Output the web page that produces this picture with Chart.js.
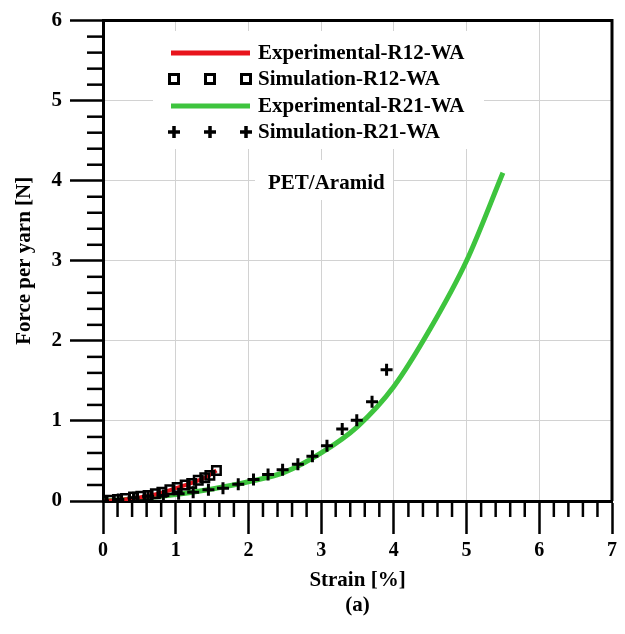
<!DOCTYPE html>
<html>
<head>
<meta charset="utf-8">
<script src="https://cdn.jsdelivr.net/npm/chart.js@4/dist/chart.umd.min.js"></script>
<style>
  body { margin: 0; background: #fff; }
  #wrap { width: 625px; height: 634px; position: relative; }
</style>
</head>
<body>
<div id="wrap"><canvas id="forceChart"></canvas></div>
<script>
// Experimental curve, sample R21-WA (green)
const expR21Strain = [0, 0.5, 1.0, 1.5, 2.0, 2.5, 3.0, 3.5, 4.0, 4.5, 5.0, 5.5];
const expR21Force  = [0, 0.03, 0.08, 0.15, 0.24, 0.36, 0.60, 0.93, 1.43, 2.15, 3.00, 4.10];

// Simulation points, sample R21-WA (crosses)
const simR21Strain = [0, 0.21, 0.42, 0.62, 0.83, 1.04, 1.24, 1.45, 1.65, 1.86, 2.07, 2.27, 2.47, 2.68, 2.88, 3.08, 3.29, 3.49, 3.70, 3.90];
const simR21Force  = [0, 0.02, 0.04, 0.06, 0.07, 0.09, 0.11, 0.14, 0.16, 0.21, 0.27, 0.33, 0.39, 0.46, 0.56, 0.69, 0.90, 1.01, 1.24, 1.64];

// Experimental curve, sample R12-WA (red)
const expR12Strain = [0, 0.2, 0.4, 0.6, 0.8, 1.0, 1.2, 1.4, 1.56];
const expR12Force  = [0, 0.01, 0.03, 0.06, 0.10, 0.16, 0.22, 0.29, 0.38];

// Simulation points, sample R12-WA (squares)
const simR12Strain = [0, 0.1, 0.2, 0.31, 0.42, 0.52, 0.62, 0.72, 0.81, 0.92, 1.02, 1.13, 1.22, 1.31, 1.40, 1.47, 1.56];
const simR12Force  = [0, 0.01, 0.02, 0.03, 0.05, 0.06, 0.07, 0.09, 0.11, 0.14, 0.17, 0.20, 0.22, 0.26, 0.29, 0.32, 0.38];

const legendLabels = ['Experimental-R12-WA', 'Simulation-R12-WA', 'Experimental-R21-WA', 'Simulation-R21-WA'];
const materialLabel = 'PET/Aramid';

const SERIF = '"Liberation Serif", "Times New Roman", serif';
const RED = '#e8141c';
const GREEN = '#3ec43e';

function toPoints(xs, ys) {
	return xs.map((x, i) => ({ x: x, y: ys[i] }));
}

function isMajor(v) {
	return Math.abs(v - Math.round(v)) < 1e-6;
}

// white legend box with hand drawn markers, plus the material label
const legendPlugin = {
	id: 'paperLegend',
	beforeDatasetsDraw(chart) {
		const ctx = chart.ctx;
		ctx.save();
		ctx.fillStyle = '#fff';
		ctx.fillRect(153, 31, 331, 118);
		ctx.fillRect(255, 160, 138, 40);

		const rows = [53, 79, 106, 132];
		const marks = [174, 210, 246];
		ctx.lineCap = 'butt';

		// lines
		ctx.lineWidth = 5;
		ctx.strokeStyle = RED;
		ctx.beginPath(); ctx.moveTo(171, rows[0]); ctx.lineTo(250, rows[0]); ctx.stroke();
		ctx.strokeStyle = GREEN;
		ctx.beginPath(); ctx.moveTo(171, rows[2]); ctx.lineTo(250, rows[2]); ctx.stroke();

		// squares
		ctx.strokeStyle = '#000';
		ctx.lineWidth = 3;
		marks.forEach(mx => ctx.strokeRect(mx - 4.5, rows[1] - 4.5, 9, 9));
		// crosses
		ctx.lineWidth = 3.5;
		marks.forEach(mx => {
			ctx.beginPath();
			ctx.moveTo(mx - 6, rows[3]); ctx.lineTo(mx + 6, rows[3]);
			ctx.moveTo(mx, rows[3] - 6); ctx.lineTo(mx, rows[3] + 6);
			ctx.stroke();
		});

		ctx.fillStyle = '#000';
		ctx.font = 'bold 21px ' + SERIF;
		ctx.textBaseline = 'middle';
		ctx.textAlign = 'left';
		legendLabels.forEach((t, i) => ctx.fillText(t, 258, rows[i] + 1));
		ctx.fillText(materialLabel, 268, 184);
		ctx.restore();
	}
};

// top/right frame and the short minor ticks
const framePlugin = {
	id: 'frame',
	afterDraw(chart) {
		const ctx = chart.ctx;
		const a = chart.chartArea;
		ctx.save();
		ctx.strokeStyle = '#000';
		ctx.lineWidth = 3;
		ctx.beginPath();
		ctx.moveTo(a.left, a.top);
		ctx.lineTo(a.right, a.top);
		ctx.lineTo(a.right, a.bottom);
		ctx.stroke();

		ctx.lineWidth = 2.5;
		const xs = chart.scales.x;
		xs.ticks.forEach(t => {
			if (isMajor(t.value)) return;
			const px = xs.getPixelForValue(t.value);
			ctx.beginPath(); ctx.moveTo(px, a.bottom); ctx.lineTo(px, a.bottom + 16); ctx.stroke();
		});
		const ys = chart.scales.y;
		ys.ticks.forEach(t => {
			if (isMajor(t.value)) return;
			const py = ys.getPixelForValue(t.value);
			ctx.beginPath(); ctx.moveTo(a.left, py); ctx.lineTo(a.left - 16, py); ctx.stroke();
		});
		ctx.restore();
	}
};

const axisGrid = {
	color: (c) => (c.tick && isMajor(c.tick.value)) ? '#d2d2d2' : 'rgba(0,0,0,0)',
	lineWidth: 1,
	tickColor: (c) => (c.tick && isMajor(c.tick.value)) ? '#000' : 'rgba(0,0,0,0)',
	tickLength: 33,
	tickWidth: 2.5
};

new Chart(document.getElementById('forceChart').getContext('2d'), {
	type: 'line',
	data: {
		datasets: [
			{
				label: 'Experimental-R21-WA',
				data: toPoints(expR21Strain, expR21Force),
				borderColor: GREEN,
				borderWidth: 5,
				pointRadius: 0,
				cubicInterpolationMode: 'monotone',
				fill: false,
				order: 4
			},
			{
				label: 'Experimental-R12-WA',
				data: toPoints(expR12Strain, expR12Force),
				borderColor: RED,
				borderWidth: 4,
				pointRadius: 0,
				cubicInterpolationMode: 'monotone',
				fill: false,
				order: 3
			},
			{
				label: 'Simulation-R12-WA',
				data: toPoints(simR12Strain, simR12Force),
				showLine: false,
				pointStyle: 'rect',
				pointRadius: 6,
				pointBorderWidth: 2.5,
				pointBorderColor: '#000',
				pointBackgroundColor: 'rgba(0,0,0,0)',
				order: 2
			},
			{
				label: 'Simulation-R21-WA',
				data: toPoints(simR21Strain, simR21Force),
				showLine: false,
				pointStyle: 'cross',
				pointRadius: 6,
				pointBorderWidth: 3,
				pointBorderColor: '#000',
				order: 1
			}
		]
	},
	options: {
		responsive: true,
		maintainAspectRatio: false,
		animation: false,
		layout: { padding: { top: 15, right: 13 } },
		plugins: {
			legend: { display: false },
			tooltip: { enabled: false }
		},
		scales: {
			x: {
				type: 'linear',
				min: 0,
				max: 7,
				grid: axisGrid,
				border: { color: '#000', width: 3 },
				ticks: {
					stepSize: 0.2,
					autoSkip: false,
					maxRotation: 0,
					padding: 5,
					color: '#000',
					font: { family: SERIF, size: 20, weight: 'bold' },
					callback: (v) => isMajor(v) ? String(Math.round(v)) : ''
				},
				title: {
					display: true,
					text: ['Strain [%]', '(a)'],
					color: '#000',
					font: { family: SERIF, size: 21, weight: 'bold' },
					padding: { top: 0, bottom: 16 }
				},
				afterFit: (scale) => { scale.height = 133; }
			},
			y: {
				min: 0,
				max: 6,
				grid: axisGrid,
				border: { color: '#000', width: 3 },
				ticks: {
					stepSize: 0.2,
					autoSkip: false,
					padding: 8,
					color: '#000',
					font: { family: SERIF, size: 21, weight: 'bold' },
					callback: (v) => isMajor(v) ? String(Math.round(v)) : ''
				},
				title: {
					display: true,
					text: 'Force per yarn [N]',
					color: '#000',
					font: { family: SERIF, size: 21, weight: 'bold' },
					padding: { top: 12, bottom: 0 }
				},
				afterFit: (scale) => { scale.width = 103; }
			}
		}
	},
	plugins: [legendPlugin, framePlugin]
});
</script>
</body>
</html>
